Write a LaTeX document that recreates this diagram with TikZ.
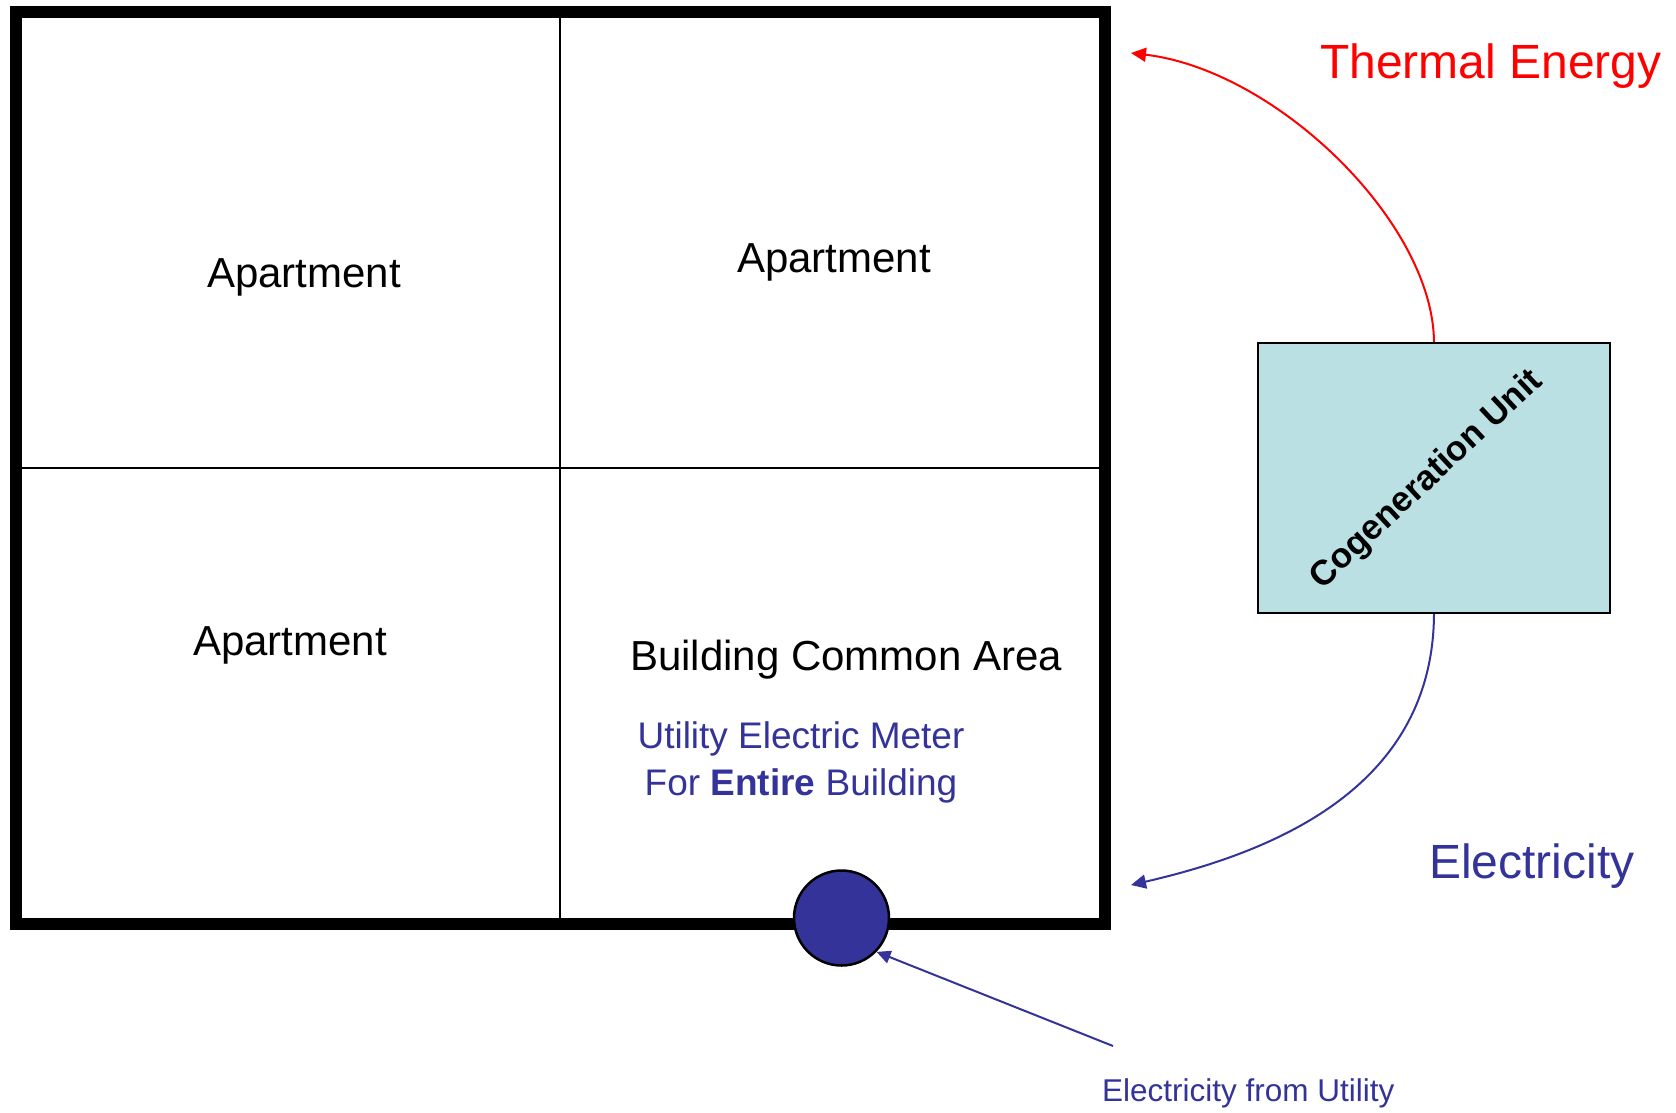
\documentclass[tikz,border=0pt]{standalone}
\usepackage{fontspec}
\setmainfont{Liberation Sans}
\usetikzlibrary{arrows.meta}
\definecolor{heatred}{HTML}{FF0000}
\definecolor{powerblue}{HTML}{333399}
\definecolor{unitfill}{HTML}{BBE0E3}
\newcommand{\px}[1]{\fontsize{#1}{#1}\selectfont}
\begin{document}
\begin{tikzpicture}[x=1pt,y=-1pt,
  wall/.style={line width=12pt, line join=miter},
  partition/.style={line width=2.5pt},
  roomlabel/.style={anchor=base west, inner sep=0pt, font=\px{42}},
  flow/.style={line width=2pt, -{Triangle[length=15pt,width=14pt]}},
  ]
  \useasboundingbox (0,0) rectangle (1676,1112);

  % building outline and room partitions
  \draw[wall] (16,12) rectangle (1104.5,924);
  \draw[partition] (560,12) -- (560,924);
  \draw[partition] (16,468) -- (1104.5,468);

  % room labels
  \node[roomlabel] (apt1) at (207,287) {Apartment};
  \node[roomlabel] (apt2) at (737,272) {Apartment};
  \node[roomlabel] (apt3) at (193,655) {Apartment};
  \node[roomlabel] (common) at (630,670) {Building Common Area};
  % two-line label, anchored on the baseline of its last line
  \node[anchor=base, inner sep=0pt, align=center, text=powerblue,
        font={\fontsize{37}{47}\selectfont}] (meterlabel) at (801,795)
        {Utility Electric Meter\\For \textbf{Entire} Building};

  % utility meter on the outer wall
  \node[circle, draw=black, fill=powerblue, line width=2.5pt,
        minimum size=95pt, inner sep=0pt] (meter) at (841.5,918) {};

  % cogeneration unit
  \node[draw=black, fill=unitfill, line width=2pt,
        minimum width=352pt, minimum height=270pt, inner sep=0pt]
        (cogen) at (1434,478) {};
  \node[rotate=43, inner sep=0pt, font=\px{35}\bfseries] (cogenlabel)
        at (1427,480) {Cogeneration Unit};

  % energy flows
  \coordinate (heatend) at (1131,53);
  \coordinate (powerend) at (1131,885);
  \draw[flow, heatred] (cogen.north)
        .. controls (1433,222) and (1276,70) .. (heatend);
  \draw[flow, powerblue] (cogen.south)
        .. controls (1433,784) and (1281,850.5) .. (powerend);

  \node[anchor=base west, inner sep=0pt, text=heatred, font=\px{48}]
        (heatlabel) at (1320,78) {Thermal Energy};
  \node[anchor=base west, inner sep=0pt, text=powerblue, font=\px{48}]
        (powerlabel) at (1429,878) {Electricity};

  % supply from the grid
  \coordinate (gridsrc) at (1113,1046);
  \draw[powerblue, line width=2pt, -{Triangle[length=14pt,width=13pt]}]
        (gridsrc) -- (meter.-44);
  \node[anchor=base west, inner sep=0pt, text=powerblue, font=\px{31.5}]
        (gridlabel) at (1102,1101) {Electricity from Utility};
\end{tikzpicture}
\end{document}
